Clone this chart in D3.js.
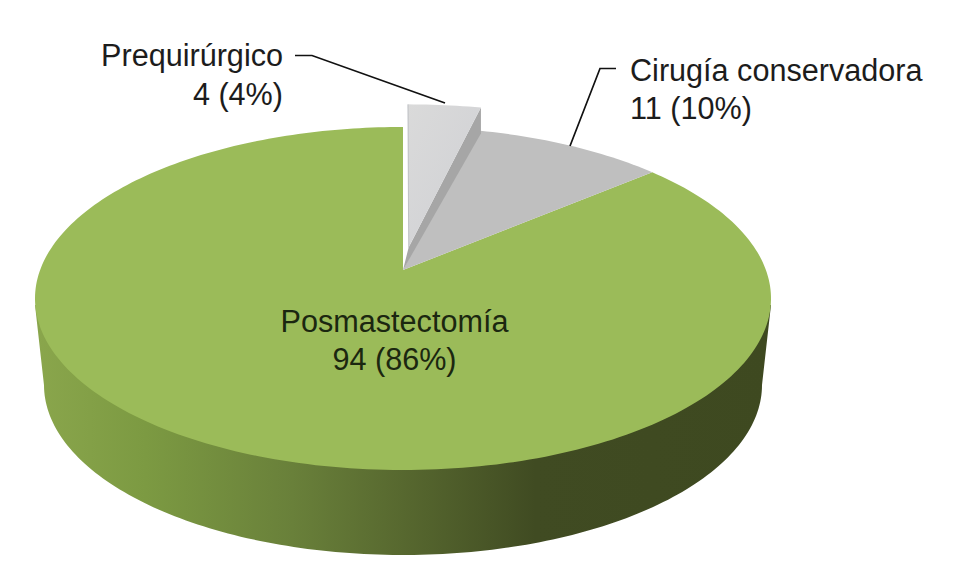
<!DOCTYPE html>
<html><head><meta charset="utf-8">
<style>html,body{margin:0;padding:0;background:#fff}svg{display:block}text{font-family:"Liberation Sans",Arial,sans-serif}</style>
<script src="https://cdn.jsdelivr.net/npm/d3@7"></script></head>
<body><svg id="c" width="966" height="583"></svg>
<script>
const categories = ["Prequirúrgico","Cirugía conservadora","Posmastectomía"];
const values = [4,11,94];
const percents = ["4%","10%","86%"];
const fills = ["#d9d9d9","#bfbfbf","#9bbb59"];

const svg = d3.select("#c");
const cx = 403, cy = 270;      // pie apex on screen
const A = 362.9, B = 166.8, K = 0.166; // perspective of the tilted disc
const project = (u,v) => { const w = 1 - K*v; return [cx + A*u/w, cy + B*v/w]; };
const onDisc = (ang,r=1,dx=0,dy=0) => project(dx + r*Math.sin(ang), dy - r*Math.cos(ang));
const arcPts = (a0,a1,r,dx,dy) => {
  const n = Math.max(2, Math.ceil(Math.abs(a1-a0)/0.02));
  return d3.range(n+1).map(i => onDisc(a0+(a1-a0)*i/n, r, dx, dy));
};
const line = d3.line();
const pie = d3.pie().sort(null).value(d=>d)(values);

// side wall
const defs = svg.append("defs");
const grad = defs.append("linearGradient").attr("id","wall").attr("gradientUnits","userSpaceOnUse")
  .attr("x1",35).attr("x2",771).attr("y1",0).attr("y2",0);
[[0,"#8aa64c"],[0.15,"#7c9a42"],[0.35,"#69803a"],[0.5,"#57682f"],[0.68,"#404b22"],[1,"#3e4920"]]
  .forEach(s=>grad.append("stop").attr("offset",s[0]).attr("stop-color",s[1]));
const lowCy = 385, lowRx = 359, lowRy = 170;
const lowPts = d3.range(0,Math.PI+0.01,0.02).map(t=>[cx+lowRx*Math.cos(t), lowCy+lowRy*Math.sin(t)]);
const wallPts = [[771,305],...lowPts,[35,305]];
svg.append("path").attr("d",line(wallPts)+"Z").attr("fill","url(#wall)");

// top faces (green and conservative surgery stay in place)
const green = pie[2], cons = pie[1], pre = pie[0];
svg.append("path").attr("d",line([[cx,cy],...arcPts(green.startAngle,green.endAngle,1,0,0)])+"Z").attr("fill",fills[2]);
svg.append("path").attr("d",line([[cx,cy],...arcPts(cons.startAngle,cons.endAngle,1,0,0)])+"Z").attr("fill",fills[1]);

// exploded wedge
const mid = (pre.startAngle+pre.endAngle)/2, ex = 0.14, rx = 1.05;
const dx = ex*Math.sin(mid), dy = -ex*Math.cos(mid);
const apex = project(dx,dy);
const outer = arcPts(pre.startAngle,pre.endAngle,rx,dx,dy);
const tip = outer[outer.length-1];
svg.append("path").attr("d",line([apex,tip,[tip[0],tip[1]+26],[cx,cy]])+"Z").attr("fill","#a6a6a6");
const preGrad = defs.append("linearGradient").attr("id","preTop").attr("x1",0).attr("x2",1).attr("y1",0).attr("y2",1);
preGrad.append("stop").attr("offset",0).attr("stop-color","#dadada");
preGrad.append("stop").attr("offset",1).attr("stop-color","#cfd0d4");
svg.append("path").attr("d",line([apex,...outer])+"Z").attr("fill","url(#preTop)");
svg.append("path").attr("d",line([apex,outer[0]])).attr("stroke","#8f939b").attr("stroke-width",0.8).attr("stroke-opacity",0.6).attr("fill","none");

// leader lines
const lead = d3.line();
svg.append("path").attr("d",lead([[295,55.5],[312,55.5],[445,103]])).attr("fill","none").attr("stroke","#111").attr("stroke-width",1.7);
svg.append("path").attr("d",lead([[616,68.5],[600,68.5],[570,146]])).attr("fill","none").attr("stroke","#111").attr("stroke-width",1.7);

// labels
const label = (x,y,anchor,lines,fill,lh) => {
  const t = svg.append("text").attr("text-anchor",anchor).attr("font-size",30.6).attr("fill",fill);
  lines.forEach((s,i)=>t.append("tspan").attr("x",x).attr("y",y+i*lh).text(s));
};
const lab = i => [categories[i], values[i]+" ("+percents[i]+")"];
label(283,66,"end",lab(0),"#1c1c1c",39);
label(630,81,"start",lab(1),"#1c1c1c",37.5);
label(394.5,332,"middle",lab(2),"#1b2710",38);
</script></body></html>
